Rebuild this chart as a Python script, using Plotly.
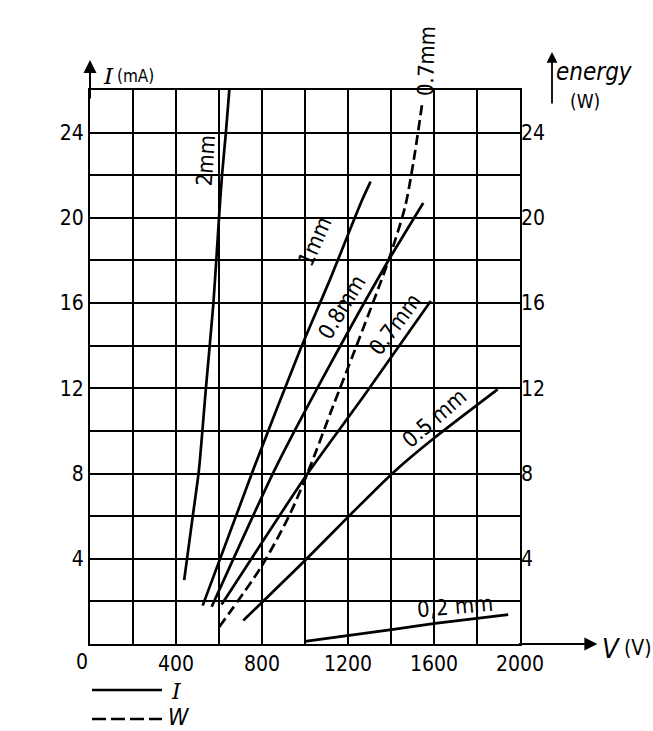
import plotly.graph_objects as go

# ---- data (V in volts, I in mA, W in watts) ----
v_2mm = [438, 478, 507, 539, 574, 600, 614, 632, 648]
i_2mm = [3.0, 6.0, 8.2, 12.0, 16.0, 20.0, 22.0, 24.0, 26.0]

v_1mm = [524, 760, 977, 1116, 1264, 1305]
i_1mm = [1.8, 8.2, 13.8, 17.1, 20.8, 21.7]

v_08mm = [566, 860, 1116, 1388, 1550]
i_08mm = [1.75, 8.2, 13.1, 18.0, 20.7]

v_07mm = [612, 1012, 1271, 1585]
i_07mm = [1.85, 8.0, 11.6, 16.1]

v_05mm = [713, 1008, 1209, 1411, 1605, 1896]
i_05mm = [1.1, 4.0, 6.05, 8.05, 9.7, 11.95]

v_02mm = [1000, 1411, 1605, 1945]
i_02mm = [0.12, 0.69, 0.97, 1.38]

v_w07 = [601, 798, 930, 1015, 1132, 1232, 1349, 1395, 1465, 1504, 1547]
w_07 = [0.8, 3.65, 6.1, 8.1, 11.2, 13.8, 16.9, 18.2, 20.5, 22.6, 25.5]

y_ticks = [4, 8, 12, 16, 20, 24]
x_ticks = [400, 800, 1200, 1600, 2000]

FONT = "Liberation Sans Narrow, DejaVu Sans Condensed, DejaVu Sans, sans-serif"
LW = 2.7

fig = go.Figure()
for vx, iy in [(v_2mm, i_2mm), (v_1mm, i_1mm), (v_08mm, i_08mm),
               (v_07mm, i_07mm), (v_05mm, i_05mm), (v_02mm, i_02mm)]:
    fig.add_trace(go.Scatter(x=vx, y=iy, mode="lines",
                             line=dict(color="black", width=LW, shape="spline", smoothing=0.6),
                             showlegend=False, hoverinfo="skip"))
fig.add_trace(go.Scatter(x=v_w07, y=w_07, mode="lines", yaxis="y2",
                         line=dict(color="black", width=LW, dash="10px,5px",
                                   shape="spline", smoothing=0.8),
                         showlegend=False, hoverinfo="skip"))

tickfont = dict(family=FONT, size=21, color="black")
grid = dict(showgrid=True, gridcolor="black", gridwidth=1.5)
fig.update_layout(
    width=653, height=731,
    margin=dict(l=90, r=133, t=90, b=87),
    paper_bgcolor="white", plot_bgcolor="white",
    xaxis=dict(range=[0, 2000], tickmode="array", tickvals=x_ticks, **grid,
               showline=True, linecolor="black", linewidth=2, mirror=True,
               zeroline=False, ticks="", tickfont=tickfont, fixedrange=True,
               minor=dict(dtick=200, **grid)),
    yaxis=dict(range=[0, 26], tickmode="array", tickvals=y_ticks, **grid,
               showline=True, linecolor="black", linewidth=2, mirror=True,
               zeroline=False, ticks="", tickfont=tickfont, fixedrange=True,
               minor=dict(dtick=2, **grid)),
    yaxis2=dict(range=[0, 26], tickmode="array", tickvals=y_ticks, overlaying="y",
                side="right", showgrid=False, showline=False, zeroline=False,
                ticks="", tickfont=tickfont, fixedrange=True),
)


def px(xp, yp):
    return (xp - 90) / 430, (644 - yp) / 554


ann = []
lab = dict(family=FONT, size=22, color="black")
# curve labels (data coordinates)
for txt, x, y, ang in [("2mm", 538, 22.7, -86), ("1mm", 1045, 18.9, -66),
                       ("0.8mm", 1170, 15.8, -59), ("0.7mm", 1418, 15.0, -53),
                       ("0.5 mm", 1600, 10.6, -41), ("0,2 mm", 1698, 1.75, -5)]:
    ann.append(dict(text=txt, x=x, y=y, xref="x", yref="y", showarrow=False,
                    textangle=ang, font=lab, xanchor="center", yanchor="middle"))
# label of the dashed curve, above the frame
x0, y0 = px(427, 61)
ann.append(dict(text="0.7mm", x=x0, y=y0, xref="paper", yref="paper", showarrow=False,
                textangle=-88, font=lab, xanchor="center", yanchor="middle"))
# origin label
ann.append(dict(text="0", x=0, y=0, xref="x", yref="y", showarrow=False,
                xanchor="right", yanchor="top", yshift=-4, font=tickfont))

# axis arrows
ann.append(dict(text="", x=1.18, y=0, xref="paper", yref="paper", showarrow=True,
                ax=-80, ay=0, arrowhead=2, arrowsize=1.3, arrowwidth=2, arrowcolor="black"))
ann.append(dict(text="", x=0, y=(644 - 60) / 554, xref="paper", yref="paper", showarrow=True,
                ax=0, ay=40, arrowhead=2, arrowsize=1.3, arrowwidth=2, arrowcolor="black"))
ann.append(dict(text="", x=(552 - 90) / 430, y=(644 - 52) / 554, xref="paper", yref="paper",
                showarrow=True, ax=0, ay=53, arrowhead=2, arrowsize=1.2, arrowwidth=1.8,
                arrowcolor="black"))

# axis titles
x0, y0 = px(101, 76)
ann.append(dict(text="<i>I</i>", x=x0, y=y0, xref="paper", yref="paper", showarrow=False,
                xanchor="left", yanchor="middle", font=dict(family="DejaVu Serif", size=23, color="black")))
x0, y0 = px(115, 76)
ann.append(dict(text="(mA)", x=x0, y=y0, xref="paper", yref="paper", showarrow=False,
                xanchor="left", yanchor="middle", font=dict(family=FONT, size=17, color="black")))
x0, y0 = px(600, 648)
ann.append(dict(text="<i>V</i>", x=x0, y=y0, xref="paper", yref="paper", showarrow=False,
                xanchor="left", yanchor="middle", font=dict(family=FONT, size=27, color="black")))
x0, y0 = px(622, 648)
ann.append(dict(text="(V)", x=x0, y=y0, xref="paper", yref="paper", showarrow=False,
                xanchor="left", yanchor="middle", font=dict(family=FONT, size=21, color="black")))
x0, y0 = px(554, 72)
ann.append(dict(text="<i>energy</i>", x=x0, y=y0, xref="paper", yref="paper", showarrow=False,
                xanchor="left", yanchor="middle", font=dict(family=FONT, size=24, color="black")))
x0, y0 = px(568, 101)
ann.append(dict(text="(W)", x=x0, y=y0, xref="paper", yref="paper", showarrow=False,
                xanchor="left", yanchor="middle", font=dict(family=FONT, size=19, color="black")))

# legend key
x0, y0 = px(169, 691)
ann.append(dict(text="<i>I</i>", x=x0, y=y0, xref="paper", yref="paper", showarrow=False,
                xanchor="left", yanchor="middle", font=dict(family="DejaVu Serif", size=22, color="black")))
x0, y0 = px(166, 717)
ann.append(dict(text="<i>W</i>", x=x0, y=y0, xref="paper", yref="paper", showarrow=False,
                xanchor="left", yanchor="middle", font=dict(family=FONT, size=23, color="black")))
fig.update_layout(annotations=ann)

sx0, sy = px(92, 690)
sx1, _ = px(162, 690)
fig.add_shape(type="line", x0=sx0, x1=sx1, y0=sy, y1=sy, xref="paper", yref="paper",
              line=dict(color="black", width=2.5))
_, sy = px(92, 719)
fig.add_shape(type="line", x0=sx0, x1=sx1, y0=sy, y1=sy, xref="paper", yref="paper",
              line=dict(color="black", width=2.5, dash="14px,5px"))

fig.write_html("out.html")
